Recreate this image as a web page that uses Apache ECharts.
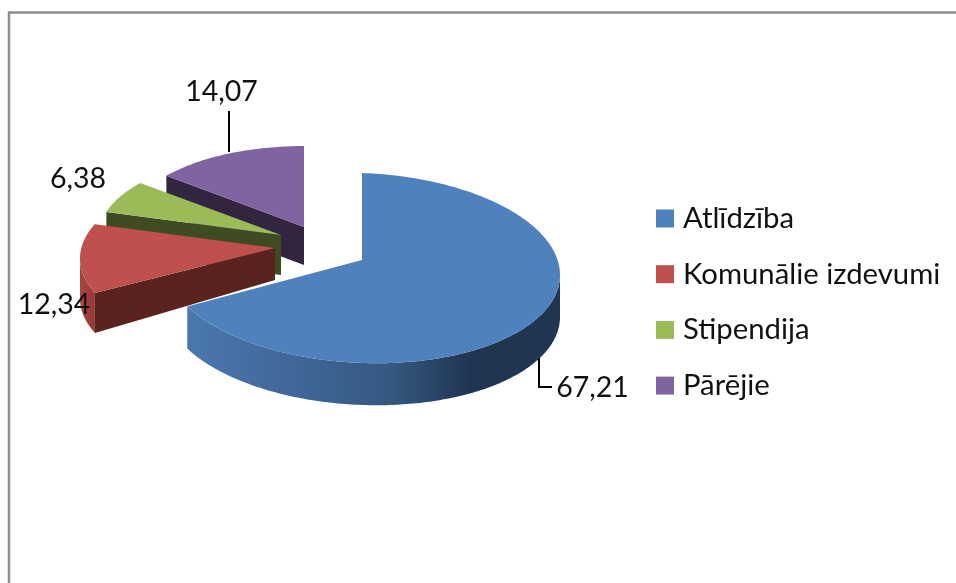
<!DOCTYPE html>
<html><head><meta charset="utf-8">
<style>html,body{margin:0;padding:0;background:#fff}#c{width:956px;height:583px}</style>
<script src="https://cdn.jsdelivr.net/npm/echarts@6/dist/echarts.min.js"></script>
</head><body><div id="c"></div>
<script>
var categories = ['Atlīdzība', 'Komunālie izdevumi', 'Stipendija', 'Pārējie'];
var values = [67.21, 12.34, 6.38, 14.07];
var colors = ['#4f81bd', '#c0504d', '#9bbb59', '#8064a2'];

// Layout of the exploded 3D pie: each slice has its own ellipse and apex
var geometry = [
  {cx:362, cy:268, rx:198, ry:95, ax:362, ay:260, rot:0, shear:0.035, depth:42, apexDepth:0, z:8,
   rim:['#4a78ae','#3f6697','#34587f','#1f3552','#1f3552'], rimStops:[0,.3,.55,.76,1], cut:null,
   label:[592.5,388], leader:[[539,352],[539,387],[552,387]]},
  {cx:280, cy:258.5, rx:200, ry:91, ax:275, ay:248, rot:5.8, shear:0, depth:40, apexDepth:32, z:6,
   rim:['#a8443f','#953a37'], rimStops:[0,1], cut:'#5b2320', label:[54,305], leader:null},
  {cx:281, cy:235, rx:182, ry:82, ax:281, ay:235, rot:0, shear:0, depth:40, apexDepth:40, z:4,
   rim:['#5f7336','#5f7336'], rimStops:[0,1], cut:'#3f4c23', label:[78,179], leader:null},
  {cx:304, cy:227, rx:178, ry:81, ax:304, ay:227, rot:0, shear:0, depth:38, apexDepth:38, z:2,
   rim:['#33253f','#33253f'], rimStops:[0,1], cut:'#33253f', label:[221.5,92], leader:[[229,111],[229,152]]}
];
var total = values.reduce(function(a,b){return a+b;},0);
var starts = []; (function(){var s=0;values.forEach(function(v){starts.push(s);s+=v;});})();

function pt(g, deg, dy){
  var r = (deg + g.rot) * Math.PI/180;
  var dx = g.rx*Math.sin(r);
  return [g.cx + dx, g.cy - g.ry*Math.cos(r) + g.shear*dx + (dy||0)];
}
function renderer(i){
  return function(params, api){
    var g = geometry[i];
    var v = api.value(0);
    var a0 = starts[i]/total*360, a1 = a0 + v/total*360;
    var children = [];
    if (g.leader) children.push({type:'polyline', shape:{points:g.leader}, style:{fill:null, stroke:'#000', lineWidth:2}});
    // visible rim: the arc part facing the viewer
    var rimFrom = Math.max(a0 + g.rot, 90) - g.rot, rimTo = Math.min(a1 + g.rot, 270) - g.rot;
    if (rimTo > rimFrom){
      var top=[], bot=[];
      for (var d=rimFrom; d<=rimTo; d+=1){ top.push(pt(g,d)); bot.unshift(pt(g,d,g.depth)); }
      top.push(pt(g,rimTo)); bot.unshift(pt(g,rimTo,g.depth));
      var stops=g.rim.map(function(c,k){return {offset:g.rimStops[k],color:c};});
      children.push({type:'polygon', shape:{points:top.concat(bot)},
        style:{fill:new echarts.graphic.LinearGradient(0,0,1,0,stops), stroke:null}});
    }
    // cut face facing the viewer, running from apex to the slice's first edge
    if (g.cut){
      var p = pt(g,a0);
      children.push({type:'polygon', shape:{points:[[g.ax,g.ay],p,[p[0],p[1]+g.depth],[g.ax,g.ay+g.apexDepth]]},
        style:{fill:g.cut, stroke:null}});
    }
    // top face
    var face=[[g.ax,g.ay]];
    for (var d2=a0; d2<a1; d2+=1) face.push(pt(g,d2));
    face.push(pt(g,a1));
    children.push({type:'polygon', shape:{points:face}, style:{fill:colors[i], stroke:null}});
    // value label
    children.push({type:'text', style:{text:String(v).replace('.',','), x:g.label[0], y:g.label[1],
      align:'center', verticalAlign:'middle', fill:'#111', font:'28.5px Lato'}});
    return {type:'group', children:children};
  };
}
var series = categories.map(function(name,i){
  return {type:'custom', name:name, coordinateSystem:'none', z:geometry[i].z, silent:true, animation:false,
    itemStyle:{color:colors[i]}, data:[[values[i]]], renderItem:renderer(i)};
});
var chart = echarts.init(document.getElementById('c'), null, {renderer:'canvas'});
chart.setOption({
  backgroundColor:'#ffffff',
  animation:false,
  color:colors,
  graphic:[{type:'rect', silent:true, z:0, shape:{x:9,y:12.5,width:1100,height:800},
    style:{fill:null, stroke:'#8e8e8e', lineWidth:2.5}}],
  legend:{
    data:categories, orient:'vertical', left:656, top:204, padding:0, itemWidth:18, itemHeight:18, itemGap:26.7, icon:'rect',
    selectedMode:false,
    textStyle:{fontFamily:'Lato', fontSize:29.3, color:'#111', padding:[0,0,0,4], lineHeight:28}
  },
  series:series
});
</script></body></html>
